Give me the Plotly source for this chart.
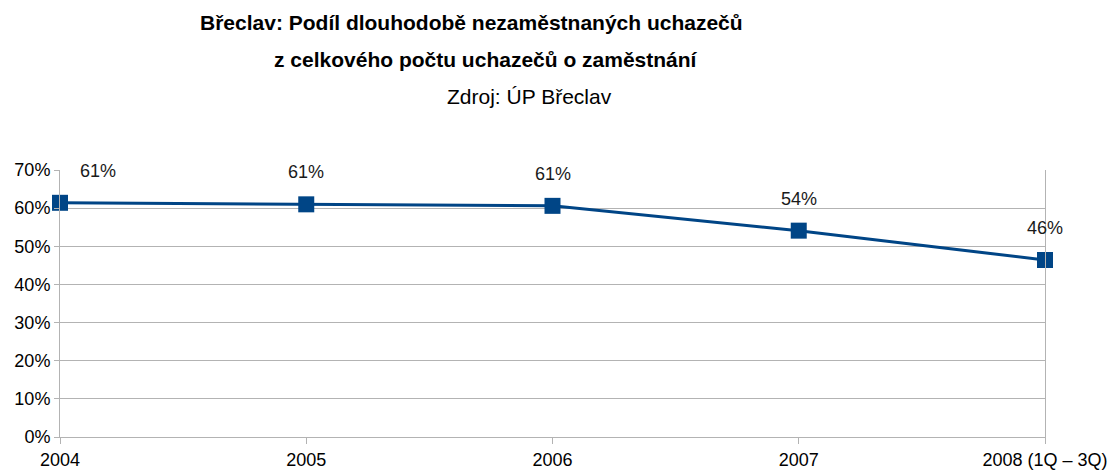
import plotly.graph_objects as go

# data
years = ["2004", "2005", "2006", "2007", "2008 (1Q – 3Q)"]
share = [61.4, 61.0, 60.6, 54.1, 46.4]
label_shift = [38, 0, 0, 0, 0]

line_color = "#004586"
grid_color = "#b3b3b3"
font = "Liberation Sans, Arial, sans-serif"

fig = go.Figure(
    go.Scatter(
        x=years,
        y=share,
        mode="lines+markers",
        line=dict(color=line_color, width=3),
        marker=dict(symbol="square", size=16, color=line_color),
        cliponaxis=False,
        hoverinfo="skip",
    )
)

# value labels above points (x given as category index)
for i, (v, dx) in enumerate(zip(share, label_shift)):
    fig.add_annotation(
        x=i, y=v, text=f"{round(v)}%", showarrow=False,
        yshift=32, xshift=dx, font=dict(size=18, color="#1a1a1a"),
    )

# titles
titles = [
    ("<b>Břeclav: Podíl dlouhodobě nezaměstnaných uchazečů</b>", 0.418, 1.554),
    ("<b>z celkového počtu uchazečů o zaměstnání</b>", 0.4325, 1.412),
    ("Zdroj: ÚP Břeclav", 0.477, 1.277),
]
for txt, xp, yp in titles:
    fig.add_annotation(
        text=txt, xref="paper", yref="paper", x=xp, y=yp,
        xanchor="center", yanchor="middle", showarrow=False,
        font=dict(size=21, color="#000000"),
    )

fig.update_layout(
    width=1113,
    height=472,
    margin=dict(l=60, r=68, t=170, b=35),
    plot_bgcolor="white",
    paper_bgcolor="white",
    font=dict(family=font, size=18, color="#000000"),
    showlegend=False,
)
fig.update_xaxes(
    type="category",
    range=[0, len(years) - 1],
    automargin=False,
    showgrid=False,
    showline=True, linecolor=grid_color, linewidth=1,
    ticks="outside", ticklen=6, tickcolor=grid_color,
    zeroline=False,
)
fig.update_yaxes(
    range=[0, 70],
    dtick=10,
    ticksuffix="%",
    automargin=False,
    showgrid=True, gridcolor=grid_color, gridwidth=1,
    showline=True, linecolor=grid_color, linewidth=1, mirror=True,
    ticks="outside", ticklen=5, tickcolor=grid_color,
    zeroline=False,
)

# drop the page's default body margin so the figure fills the window
fig.write_html(
    "out.html",
    config={"displayModeBar": False},
    post_script="document.body.style.margin='0';document.body.style.overflow='hidden';",
)
